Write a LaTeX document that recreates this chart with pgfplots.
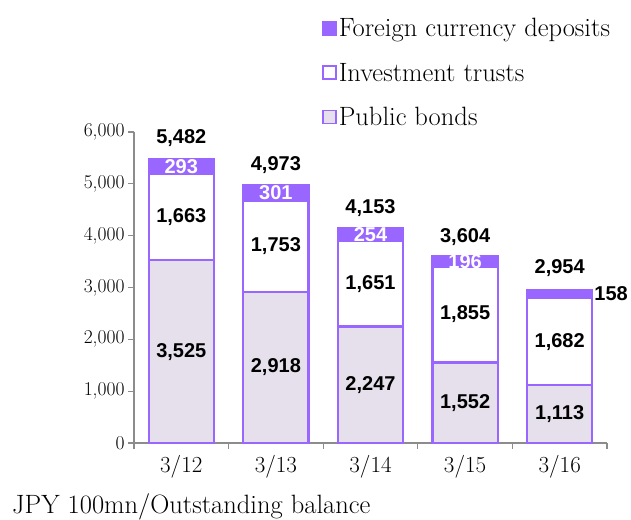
\documentclass[border=0pt]{standalone}
\usepackage{fontspec}
\usepackage{pgfplots}
\pgfplotsset{compat=1.18}
\newfontfamily\labfont{Liberation Sans}
\definecolor{fcol}{HTML}{9966FF}
\definecolor{pcol}{HTML}{E6E0EC}
\definecolor{axcol}{HTML}{8C8C8C}
\pgfplotsset{
  base/.style={scale only axis, width=473pt, height=311pt, at={(134pt,76pt)}, anchor=south west,
    xmin=-0.5, xmax=4.5, ymin=0, ymax=6000, clip=false},
  lab/.style={only marks, mark=none, nodes near coords, point meta=explicit symbolic,
    nodes near coords style={anchor=center, font=\labfont\bfseries\fontsize{20}{22}\selectfont, text=#1}},
}
\begin{document}
\begin{tikzpicture}
\begin{axis}[base, ybar stacked, bar width=0.69,
  axis lines*=left, axis line style={axcol, line width=1.3pt},
  tick align=outside, tick style={axcol, line width=1.3pt}, major tick length=6pt,
  xtick={-0.5,0.5,1.5,2.5,3.5,4.5}, xticklabels={},
  extra x ticks={0,1,2,3,4}, extra x tick labels={3/12,3/13,3/14,3/15,3/16},
  extra x tick style={major tick length=0pt},
  xticklabel shift=9pt,
  xticklabel style={font=\fontsize{23}{26}\selectfont},
  ytick={0,1000,...,6000},
  yticklabel style={font=\fontsize{19.5}{22}\selectfont},
  /pgf/number format/.cd, 1000 sep={,}, assume math mode=true, /pgfplots/.cd,
  reverse legend,
  legend cell align=left,
  legend style={at={(0.397,1.372)}, anchor=north west, draw=none, fill=none,
    font=\fontsize{26.5}{30}\selectfont, row sep=20.5pt, inner sep=0pt,
    /tikz/every even column/.append style={column sep=4pt}},
  legend image code/.code={\draw[#1, line width=1.8pt] (0pt,-6.5pt) rectangle (13pt,6.5pt);},
]
\addplot[fill=pcol, draw=fcol, line width=2.2pt] coordinates {(0,3525) (1,2918) (2,2247) (3,1552) (4,1113)};
\addplot[fill=white, draw=fcol, line width=2.2pt] coordinates {(0,1663) (1,1753) (2,1651) (3,1855) (4,1682)};
\addplot[fill=fcol, draw=fcol, line width=2.2pt] coordinates {(0,293) (1,301) (2,254) (3,196) (4,158)};
\legend{Public bonds, Investment trusts, Foreign currency deposits}
\end{axis}
\begin{axis}[base, hide axis]
\addplot[lab=black] table[meta=l] {
x y l
0 1762.5 3,525
1 1459 2,918
2 1123.5 2,247
3 776 1,552
4 556.5 1,113
0 4356.5 1,663
1 3794.5 1,753
2 3072.5 1,651
3 2479.5 1,855
4 1954 1,682
0 5884 5,482
1 5364 4,973
2 4534 4,153
3 3975 3,604
4 3376 2,954
};
\addplot[lab=white] table[meta=l] {
x y l
0 5334.5 293
1 4821.5 301
2 4025 254
3 3505 196
};
\addplot[only marks, mark=none, nodes near coords, point meta=explicit symbolic,
  nodes near coords style={anchor=west, font=\labfont\bfseries\fontsize{20}{22}\selectfont, text=black}]
  table[meta=l] {
x y l
4.33 2874 158
};
\end{axis}
\node[anchor=base west, inner sep=0pt, font=\fontsize{26.5}{30}\selectfont] at (12pt,5.5pt) {JPY 100mn/Outstanding balance};
\pgfresetboundingbox
\useasboundingbox (0,0) rectangle (631pt,519pt);
\end{tikzpicture}
\end{document}
